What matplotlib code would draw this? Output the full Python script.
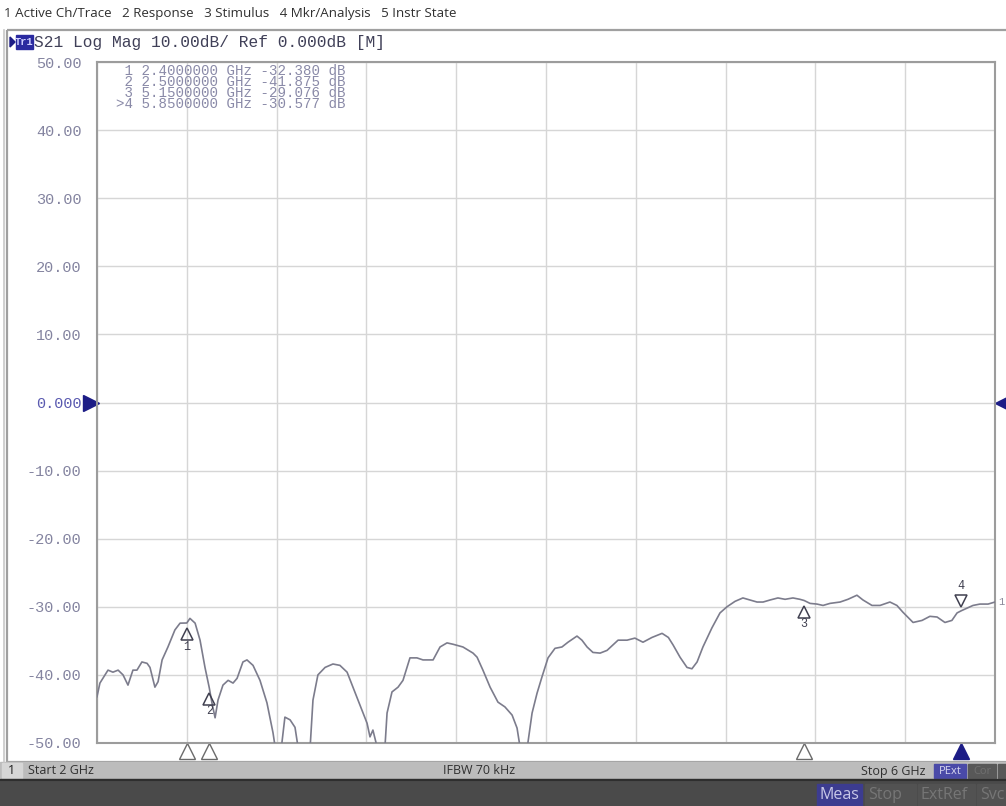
import matplotlib
matplotlib.use('Agg')
import matplotlib.pyplot as plt
from matplotlib.patches import Rectangle
from matplotlib.transforms import offset_copy, blended_transform_factory

# S21 trace (GHz, dB); values below -50 are clipped by the display
freq_ghz = [2.000, 2.013, 2.049, 2.071, 2.094, 2.116, 2.138, 2.160, 2.178, 2.200,
            2.223, 2.236, 2.258, 2.272, 2.290, 2.316, 2.347, 2.370, 2.400, 2.414,
            2.437, 2.459, 2.481, 2.500, 2.512, 2.526, 2.539, 2.561, 2.584, 2.606,
            2.624, 2.650, 2.668, 2.695, 2.726, 2.757, 2.784, 2.800, 2.820, 2.837,
            2.860, 2.882, 2.895, 2.910, 2.945, 2.962, 2.984, 3.016, 3.051, 3.082,
            3.114, 3.140, 3.171, 3.203, 3.216, 3.229, 3.247, 3.265, 3.280, 3.292,
            3.314, 3.341, 3.363, 3.394, 3.425, 3.452, 3.497, 3.528, 3.559, 3.586,
            3.630, 3.675, 3.693, 3.719, 3.751, 3.786, 3.817, 3.849, 3.871, 3.884,
            3.900, 3.915, 3.938, 3.960, 3.982, 4.009, 4.040, 4.071, 4.098, 4.138,
            4.160, 4.183, 4.209, 4.241, 4.272, 4.298, 4.321, 4.361, 4.396, 4.432,
            4.472, 4.517, 4.545, 4.566, 4.597, 4.628, 4.650, 4.673, 4.699, 4.739,
            4.775, 4.806, 4.842, 4.877, 4.909, 4.940, 4.967, 4.998, 5.033, 5.065,
            5.100, 5.131, 5.150, 5.176, 5.207, 5.234, 5.265, 5.310, 5.345, 5.385,
            5.412, 5.452, 5.488, 5.532, 5.563, 5.590, 5.635, 5.675, 5.710, 5.742,
            5.777, 5.808, 5.831, 5.850, 5.875, 5.902, 5.933, 5.969, 6.000]
s21_db = [-43.2, -41.2, -39.3, -39.6, -39.3, -40.0, -41.5, -39.3, -39.3, -38.1,
          -38.3, -38.9, -41.8, -41.0, -37.8, -35.9, -33.4, -32.4, -32.38, -31.7,
          -32.4, -34.9, -38.9, -41.875, -44.1, -46.3, -43.7, -41.5, -40.8, -41.2,
          -40.5, -38.1, -37.8, -38.6, -40.8, -44.1, -48.5, -52.0, -51.0, -46.2,
          -46.6, -47.7, -50.5, -53.0, -53.0, -43.7, -40.0, -38.9, -38.4, -38.6,
          -39.6, -41.8, -44.4, -47.1, -49.1, -48.1, -50.5, -53.0, -52.0, -45.6,
          -42.5, -41.8, -40.8, -37.5, -37.5, -37.8, -37.8, -35.9, -35.3, -35.5,
          -35.9, -36.8, -37.4, -39.3, -41.8, -44.0, -44.7, -45.9, -47.8, -50.5,
          -53.0, -51.0, -45.6, -42.7, -40.3, -37.5, -36.1, -35.9, -35.2, -34.3,
          -34.9, -35.9, -36.7, -36.8, -36.4, -35.6, -34.9, -34.9, -34.6, -35.2,
          -34.5, -33.9, -34.5, -35.6, -37.4, -38.9, -39.1, -38.1, -35.9, -33.1,
          -30.9, -30.0, -29.2, -28.7, -29.0, -29.3, -29.3, -29.0, -28.7, -28.9,
          -28.7, -28.9, -29.076, -29.5, -29.6, -29.8, -29.5, -29.3, -28.9, -28.3,
          -29.0, -29.8, -29.8, -29.3, -29.8, -30.8, -32.3, -32.0, -31.4, -31.5,
          -32.3, -32.0, -30.9, -30.577, -30.2, -29.8, -29.6, -29.6, -29.3]

# markers
mkr_ids = ['1', '2', '3', '4']
mkr_freq = [2.4, 2.5, 5.15, 5.85]
mkr_db = [-32.380, -41.875, -29.076, -30.577]
mkr_freq_txt = ['2.4000000', '2.5000000', '5.1500000', '5.8500000']

y_ticks = [50, 40, 30, 20, 10, 0, -10, -20, -30, -40, -50]
y_labels = ['50.00', '40.00', '30.00', '20.00', '10.00', '0.000',
            '-10.00', '-20.00', '-30.00', '-40.00', '-50.00']

W, H = 1006, 806
mono = ['Liberation Mono', 'DejaVu Sans Mono']
sans = ['Open Sans', 'DejaVu Sans']
navy = '#1c1c86'
tick_col = '#8484a0'
tbl_col = '#8a8aa8'

fig = plt.figure(figsize=(W / 100, H / 100), dpi=100)
fig.patch.set_facecolor('white')

# background axes in pixel coordinates for the instrument window chrome
bg = fig.add_axes([0, 0, 1, 1])
bg.set_xlim(0, W)
bg.set_ylim(H, 0)
bg.axis('off')

bg.text(4, 14, '1 Active Ch/Trace   2 Response   3 Stimulus   4 Mkr/Analysis   5 Instr State',
        family=sans, fontsize=9.6, color='#303030', va='center', ha='left')

# window frame
bg.add_patch(Rectangle((7, 30), W - 5, 732, fill=False, ec='#a0a0a0', lw=1.6))
bg.plot([4, 4], [30, 762], color='#c8c8c8', lw=1.2)

# trace title line
bg.fill([10, 10, 15], [37, 47, 42], color=navy)
bg.add_patch(Rectangle((16, 35), 17, 14, color='#2a2aa0'))
bg.text(24.5, 42, 'Tr1', family=mono, fontsize=7.5, color='#d0d0ff', ha='center', va='center',
        fontweight='bold')
bg.text(34, 42, 'S21 Log Mag 10.00dB/ Ref 0.000dB [M]', family=mono, fontsize=11.7,
        color='#404058', va='center', ha='left')

# status bar
bg.add_patch(Rectangle((0, 762), W, 17, color='#bcbcbc'))
bg.add_patch(Rectangle((2, 763), 20, 15, color='#d6d6d6'))
bg.text(8, 771, '1', family=sans, fontsize=9, color='#202020', va='center')
bg.text(28, 771, 'Start 2 GHz', family=sans, fontsize=9, color='#303030', va='center')
bg.text(479, 771, 'IFBW 70 kHz', family=sans, fontsize=9, color='#303030',
        va='center', ha='center')
bg.text(926, 771, 'Stop 6 GHz', family=sans, fontsize=9, color='#303030',
        va='center', ha='right')
bg.add_patch(Rectangle((934, 764), 32, 14, color='#4a4aa8'))
bg.text(950, 771, 'PExt', family=sans, fontsize=8, color='#d8d8f0', va='center', ha='center')
bg.add_patch(Rectangle((968, 764), 28, 14, color='#585858'))
bg.text(982, 771, 'Cor', family=sans, fontsize=8, color='#707070', va='center', ha='center')
bg.add_patch(Rectangle((998, 764), 10, 14, color='#585858'))

# soft key bar
bg.add_patch(Rectangle((0, 779), W, 27, color='#4a4a4a'))
bg.plot([0, W], [780, 780], color='#2e2e2e', lw=1.5)
soft = [('Meas', 817, 45, '#3c3c90', '#c8c8e8'), ('Stop', 865, 51, '#525252', '#767676'),
        ('ExtRef', 918, 57, '#525252', '#767676'), ('Svc', 977, 35, '#525252', '#767676')]
for name, x0, w, fc, tc in soft:
    bg.add_patch(Rectangle((x0, 784), w, 22, color=fc))
    bg.text(x0 + 3, 795, name, family=sans, fontsize=11.5, color=tc, va='center', ha='left')

# main graticule
ax = fig.add_axes([97 / W, 1 - 743 / H, 898 / W, 681 / H])
ax.set_xlim(2, 6)
ax.set_ylim(-50, 50)
ax.set_xticks([2 + 0.4 * i for i in range(11)])
ax.set_xticklabels([])
ax.set_yticks(y_ticks)
ax.set_yticklabels(y_labels, family=mono, fontsize=11, color=tick_col)
ax.get_yticklabels()[5].set_color('#5a5ab0')
ax.tick_params(length=0, pad=11)
ax.grid(True, color='#d6d6d6', lw=1)
for s in ax.spines.values():
    s.set_color('#9c9c9c')
    s.set_linewidth(1.5)

ax.plot(freq_ghz, s21_db, color='#7c7c8c', lw=1.2, zorder=3)

# marker table as one block of monospaced rows
rows = []
for k in range(4):
    lead = '>' if k == 3 else ' '
    rows.append('%s%s %s GHz %.3f dB' % (lead, mkr_ids[k], mkr_freq_txt[k], mkr_db[k]))
ax.text((116 - 97) / 898, (743 - 64) / 681, '\n'.join(rows), transform=ax.transAxes,
        family=mono, fontsize=10.2, color=tbl_col, va='top', ha='left', linespacing=0.72)

# marker symbols on the trace
for i in range(4):
    f, v = mkr_freq[i], mkr_db[i]
    if i < 3:
        tr = offset_copy(ax.transData, fig=fig, x=0, y=-8, units='points')
        ax.plot(f, v, marker='^', ms=8, mfc='none', mec='#404050', mew=1.1,
                transform=tr, zorder=5, clip_on=False)
        trl = offset_copy(ax.transData, fig=fig, x=0, y=-17, units='points')
        ax.text(f, v, mkr_ids[i], transform=trl, family=mono, fontsize=8.5,
                color='#404050', ha='center', va='center')
    else:
        tr = offset_copy(ax.transData, fig=fig, x=0, y=7, units='points')
        ax.plot(f, v, marker='v', ms=8, mfc='none', mec='#404050', mew=1.1,
                transform=tr, zorder=5, clip_on=False)
        trl = offset_copy(ax.transData, fig=fig, x=0, y=18, units='points')
        ax.text(f, v, mkr_ids[i], transform=trl, family=mono, fontsize=8.5,
                color='#404050', ha='center', va='center')

# stimulus markers under the graticule
bt = blended_transform_factory(ax.transData, ax.transAxes)
for i in range(4):
    if i == 3:
        ax.plot(mkr_freq[i], -0.012, marker='^', ms=12, color=navy,
                transform=bt, clip_on=False)
    else:
        ax.plot(mkr_freq[i], -0.012, marker='^', ms=12, mfc='white', mec='#6a6a6a',
                mew=1, transform=bt, clip_on=False)

# reference level arrows
ax.plot(2, 0, marker='>', ms=12, color=navy, clip_on=False,
        transform=offset_copy(ax.transData, fig=fig, x=-4, y=0, units='points'))
ax.plot(6, 0, marker='<', ms=12, color=navy, clip_on=False,
        transform=offset_copy(ax.transData, fig=fig, x=6, y=0, units='points'))

# trace end label
ax.text(6, s21_db[-1], '1', family=mono, fontsize=7.5, color='#8a8a9a', va='center',
        ha='left', transform=offset_copy(ax.transData, fig=fig, x=2, y=0, units='points'))

fig.savefig('out.png', dpi=100)
